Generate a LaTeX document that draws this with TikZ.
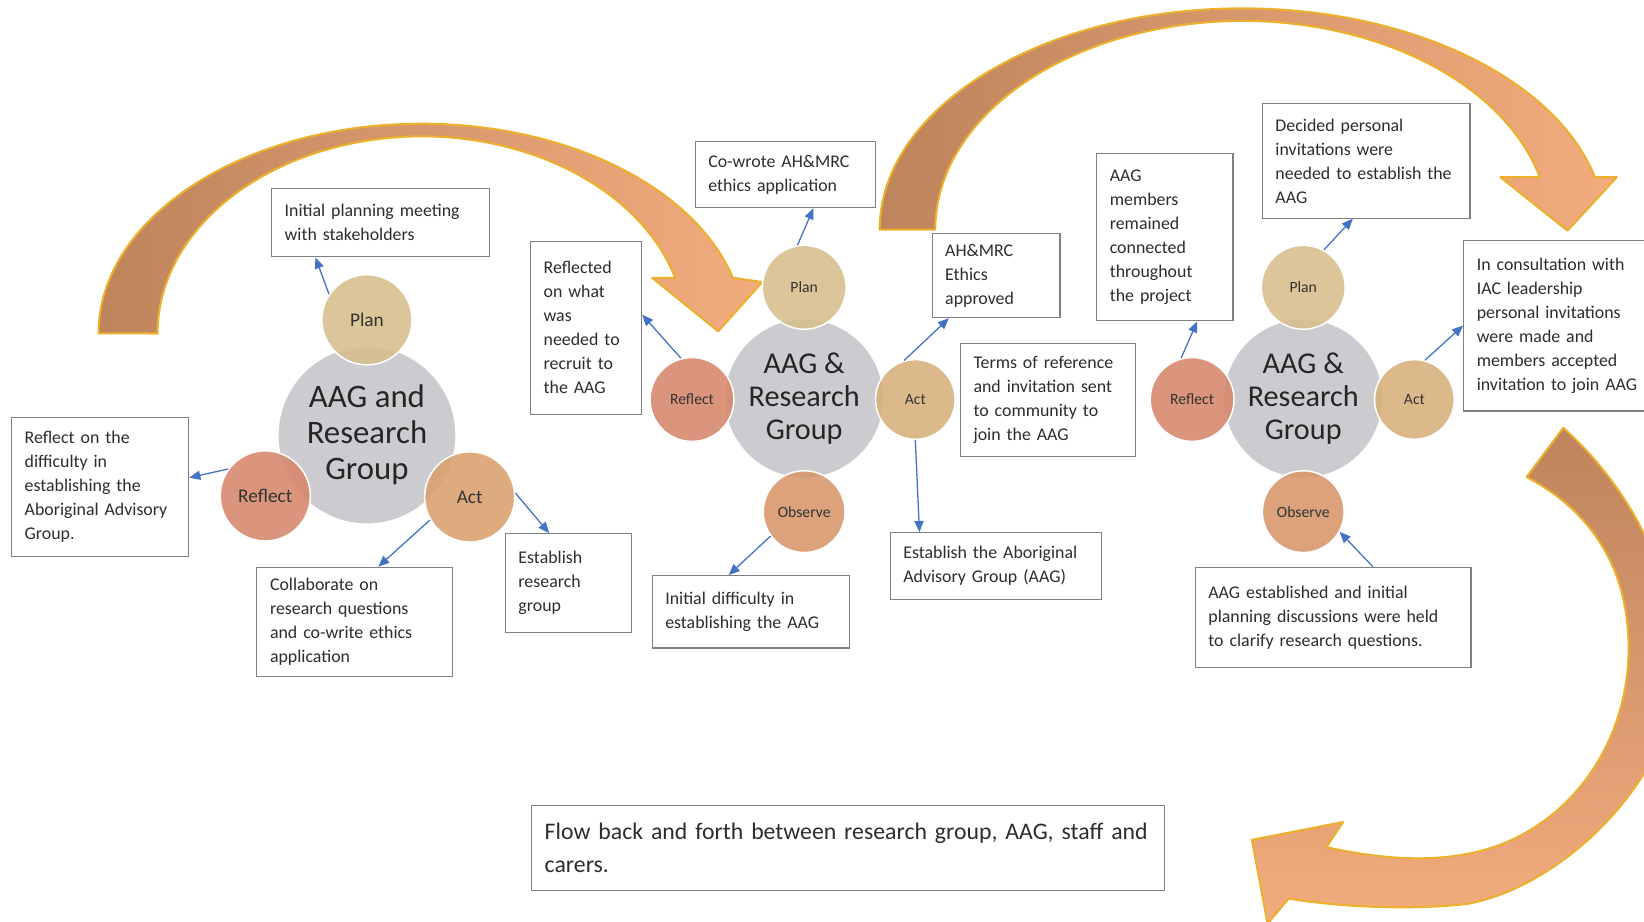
\documentclass[tikz,border=0pt]{standalone}
\usepackage{fontspec}
\setmainfont{Carlito}
\usetikzlibrary{calc,arrows.meta}
\tikzset{>={Triangle[length=6pt,width=5pt]}}

\definecolor{hubgray}{RGB}{204,204,208}
\definecolor{plantan}{RGB}{215,190,140}
\definecolor{reflectred}{RGB}{215,135,106}
\definecolor{actorange}{RGB}{218,160,110}
\definecolor{acttan}{RGB}{216,176,122}
\definecolor{observeorange}{RGB}{215,150,105}
\definecolor{arcbrown}{RGB}{190,132,92}
\definecolor{arcorange}{RGB}{242,172,126}
\definecolor{arcgold}{RGB}{236,176,44}
\definecolor{linkblue}{RGB}{68,114,196}
\definecolor{boxline}{RGB}{128,128,128}
\definecolor{inkgray}{RGB}{45,45,45}

\tikzset{
  hub/.style={circle, fill=hubgray, draw=white, line width=0.8pt, inner sep=0pt,
    align=center, text=black!85},
  phase/.style={circle, draw=white, line width=0.8pt, inner sep=0pt,
    fill opacity=0.88, text opacity=1, text=black!80},
  notebox/.style 2 args={draw=boxline, line width=0.6pt, fill=white, align=left,
    text width=#1, minimum height=#2, inner xsep=0.25cm, inner ysep=0.1cm,
    text=inkgray, font=\fontsize{9.7}{13}\selectfont},
  link/.style={->, draw=linkblue, line width=0.7pt},
  bigarrow/.style={draw=arcgold, line width=1.1pt, line join=round}
}

\begin{document}
\begin{tikzpicture}[x=0.02cm, y=-0.02cm]
  \useasboundingbox (0,0) rectangle (1568,879);
  \fill[white] (0,0) rectangle (1568,879);

  % the three big curved arrows
  \shadedraw[bigarrow, left color=arcbrown, right color=arcorange]
    (94,318) arc[start angle=180, end angle=344.6, x radius=308, y radius=200]
    -- (727,269) -- (685,316) -- (622,265) -- (644,265)
    arc[start angle=343.6, end angle=180, x radius=252, y radius=188] -- cycle;
  \shadedraw[bigarrow, left color=arcbrown, right color=arcorange]
    (839,219) arc[start angle=180, end angle=346.3, x radius=346, y radius=211]
    -- (1542,169) -- (1495,220) -- (1431,169) -- (1468.6,169)
    arc[start angle=345.45, end angle=180, x radius=293, y radius=199] -- cycle;
  \shadedraw[bigarrow, top color=arcbrown, bottom color=arcorange]
    (1491,408) .. controls (1560,470) and (1605,560) .. (1598,660)
    .. controls (1585,750) and (1490,845) .. (1400,862)
    .. controls (1340,869) and (1270,864) .. (1229,857)
    -- (1209,881) -- (1194,801) -- (1281,784) -- (1265,808)
    .. controls (1320,820) and (1400,830) .. (1462,790)
    .. controls (1530,748) and (1568,660) .. (1548,570)
    .. controls (1535,515) and (1500,478) .. (1456,455) -- cycle;

  % group 1
  \node[hub, minimum size=3.4cm, font=\fontsize{17.8}{19.5}\selectfont] (g1hub) at (350,415) {AAG and\\Research\\Group};
  \node[phase, fill=plantan, minimum size=1.72cm, font=\fontsize{10.5}{12}\selectfont] (g1plan) at (350,305) {Plan};
  \node[phase, fill=reflectred, minimum size=1.72cm, font=\fontsize{10.5}{12}\selectfont] (g1reflect) at (253,473) {Reflect};
  \node[phase, fill=actorange, minimum size=1.72cm, font=\fontsize{10.5}{12}\selectfont] (g1act) at (448,474) {Act};

  % group 2
  \node[hub, minimum size=3.04cm, font=\fontsize{16.4}{18}\selectfont] (g2hub) at (767,380) {AAG \&\\Research\\Group};
  \node[phase, fill=plantan, minimum size=1.6cm, font=\fontsize{8.5}{10}\selectfont] (g2plan) at (767,274) {Plan};
  \node[phase, fill=reflectred, minimum size=1.6cm, font=\fontsize{8.5}{10}\selectfont] (g2reflect) at (660,381) {Reflect};
  \node[phase, fill=acttan, minimum size=1.52cm, font=\fontsize{8.5}{10}\selectfont] (g2act) at (873,381) {Act};
  \node[phase, fill=observeorange, minimum size=1.56cm, font=\fontsize{8.5}{10}\selectfont] (g2observe) at (767,488) {Observe};

  % group 3
  \node[hub, minimum size=3.04cm, font=\fontsize{16.4}{18}\selectfont] (g3hub) at (1243,380) {AAG \&\\Research\\Group};
  \node[phase, fill=plantan, minimum size=1.6cm, font=\fontsize{8.5}{10}\selectfont] (g3plan) at (1243,274) {Plan};
  \node[phase, fill=reflectred, minimum size=1.6cm, font=\fontsize{8.5}{10}\selectfont] (g3reflect) at (1137,381) {Reflect};
  \node[phase, fill=acttan, minimum size=1.52cm, font=\fontsize{8.5}{10}\selectfont] (g3act) at (1349,381) {Act};
  \node[phase, fill=observeorange, minimum size=1.56cm, font=\fontsize{8.5}{10}\selectfont] (g3observe) at (1243,488) {Observe};

  % notes
  \node[notebox={3.66cm}{1.30cm}] (g1plannote) at (363,212.5) {Initial planning meeting\\with stakeholders};
  \node[notebox={2.88cm}{2.66cm}] (g1reflectnote) at (95.5,464.5) {Reflect on the\\difficulty in\\establishing the\\Aboriginal Advisory\\Group.};
  \node[notebox={3.24cm}{2.08cm}] (g1collabnote) at (338.5,593) {Collaborate on\\research questions\\and co-write ethics\\application};
  \node[notebox={1.90cm}{1.88cm}] (g1establishnote) at (542,556) {Establish\\research\\group};

  \node[notebox={2.94cm}{1.26cm}] (g2plannote) at (749,166.5) {Co-wrote AH\&MRC\\ethics application};
  \node[notebox={1.62cm}{3.30cm}] (g2reflectnote) at (559,312.5) {Reflected\\on what\\was\\needed to\\recruit to\\the AAG};
  \node[notebox={1.94cm}{1.60cm}] (g2ethicsnote) at (950,263) {AH\&MRC\\Ethics\\approved};
  \node[notebox={2.84cm}{2.14cm}] (g2termsnote) at (999.5,381.5) {Terms of reference\\and invitation sent\\to community to\\join the AAG};
  \node[notebox={3.54cm}{1.28cm}] (g2aagnote) at (950,540) {Establish the Aboriginal\\Advisory Group (AAG)};
  \node[notebox={3.26cm}{1.38cm}] (g2observenote) at (716,583.5) {Initial difficulty in\\establishing the AAG};

  \node[notebox={2.10cm}{3.20cm}] (g3reflectnote) at (1111,226) {AAG\\members\\remained\\connected\\throughout\\the project};
  \node[notebox={3.46cm}{2.18cm}] (g3plannote) at (1303,153.5) {Decided personal\\invitations were\\needed to establish the\\AAG};
  \node[notebox={3.18cm}{3.26cm}] (g3actnote) at (1488,310.5) {In consultation with\\IAC leadership\\personal invitations\\were made and\\members accepted\\invitation to join AAG};
  \node[notebox={4.76cm}{1.92cm}] (g3observenote) at (1271.5,589) {AAG established and initial\\planning discussions were held\\to clarify research questions.};

  \node[notebox={11.58cm}{1.62cm}, font=\fontsize{12.9}{17.6}\selectfont] (flownote) at (809,808.5) {Flow back and forth between research group, AAG, staff and\\carers.};

  % links
  \draw[link] (g1plan.146) -- (g1plannote.208.6);
  \draw[link] (g1reflect.144) -- (g1reflectnote.6.4);
  \draw[link] (g1act.210) -- (g1collabnote.67);
  \draw[link] (g1act.5) -- (g1establishnote.111);

  \draw[link] (g2plan.99) -- (g2plannote.310);
  \draw[link] (g2reflect.105) -- (g2reflectnote.13);
  \draw[link] (g2act.106) -- (g2ethicsnote.222);
  \draw[link] (g2act.270) -- (g2aagnote.156.6);
  \draw[link] (g2observe.216) -- (g2observenote.121);

  \draw[link] (g3reflect.105) -- (g3reflectnote.291);
  \draw[link] (g3plan.61) -- (g3plannote.257.6);
  \draw[link] (g3act.75) -- (g3actnote.180);
  \draw[link] (g3observenote.52.7) -- (g3observe.331);
\end{tikzpicture}
\end{document}
